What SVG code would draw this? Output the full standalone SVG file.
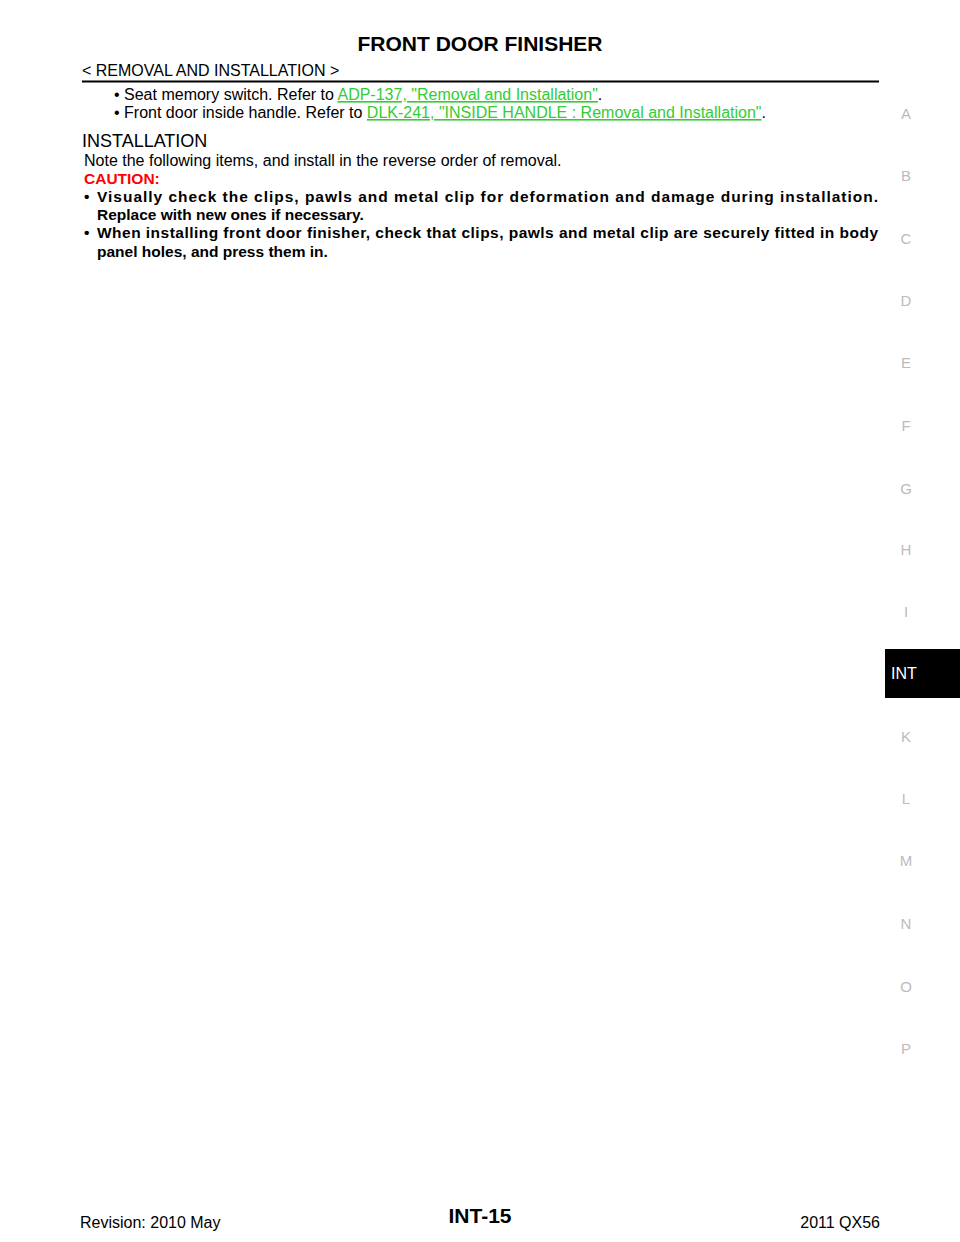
<svg xmlns="http://www.w3.org/2000/svg" width="960" height="1242" viewBox="0 0 960 1242">
<style>
text{font-family:"Liberation Sans",Arial,sans-serif;fill:#000}
.t{font-size:16px}
.b{font-size:15.5px;font-weight:bold}
.lk{fill:#33cc33;text-decoration:underline}
.side{font-size:15px;fill:#bbbbbb;text-anchor:middle}
</style>
<rect width="960" height="1242" fill="#fff"/>
<g id="header">
<text x="480" y="51" text-anchor="middle" style="font-size:21px;font-weight:bold">FRONT DOOR FINISHER</text>
<text x="82" y="76" class="t">&lt; REMOVAL AND INSTALLATION &gt;</text>
<line x1="82" y1="81.5" x2="879" y2="81.5" stroke="#000" stroke-width="2"/>
</g>
<g id="body">
<text x="114" y="100" class="t">• Seat memory switch. Refer to <tspan class="lk">ADP-137, "Removal and Installation"</tspan>.</text>
<text x="114" y="118" class="t">• Front door inside handle. Refer to <tspan class="lk">DLK-241, "INSIDE HANDLE : Removal and Installation"</tspan>.</text>
<text x="82" y="147" style="font-size:18px">INSTALLATION</text>
<text x="84" y="166" class="t">Note the following items, and install in the reverse order of removal.</text>
<text x="84" y="184" class="b" style="fill:#ff0000">CAUTION:</text>
<text x="84" y="202" class="b">•</text>
<text x="97" y="202" class="b" textLength="781" lengthAdjust="spacing">Visually check the clips, pawls and metal clip for deformation and damage during installation.</text>
<text x="97" y="220" class="b">Replace with new ones if necessary.</text>
<text x="84" y="238" class="b">•</text>
<text x="97" y="238" class="b" textLength="781" lengthAdjust="spacing">When installing front door finisher, check that clips, pawls and metal clip are securely fitted in body</text>
<text x="97" y="257" class="b">panel holes, and press them in.</text>
</g>
<g id="sidebar">
<text x="906" y="119" class="side">A</text>
<text x="906" y="181" class="side">B</text>
<text x="906" y="244" class="side">C</text>
<text x="906" y="306" class="side">D</text>
<text x="906" y="368" class="side">E</text>
<text x="906" y="431" class="side">F</text>
<text x="906" y="494" class="side">G</text>
<text x="906" y="555" class="side">H</text>
<text x="906" y="617" class="side">I</text>
<rect x="885" y="649" width="75" height="49" fill="#000"/>
<text x="904" y="679" text-anchor="middle" style="font-size:16px;fill:#fff">INT</text>
<text x="906" y="742" class="side">K</text>
<text x="906" y="804" class="side">L</text>
<text x="906" y="866" class="side">M</text>
<text x="906" y="929" class="side">N</text>
<text x="906" y="992" class="side">O</text>
<text x="906" y="1054" class="side">P</text>
</g>
<g id="footer">
<text x="80" y="1228" class="t">Revision: 2010 May</text>
<text x="480" y="1223" text-anchor="middle" style="font-size:21px;font-weight:bold">INT-15</text>
<text x="880" y="1228" class="t" text-anchor="end">2011 QX56</text>
</g>
</svg>
